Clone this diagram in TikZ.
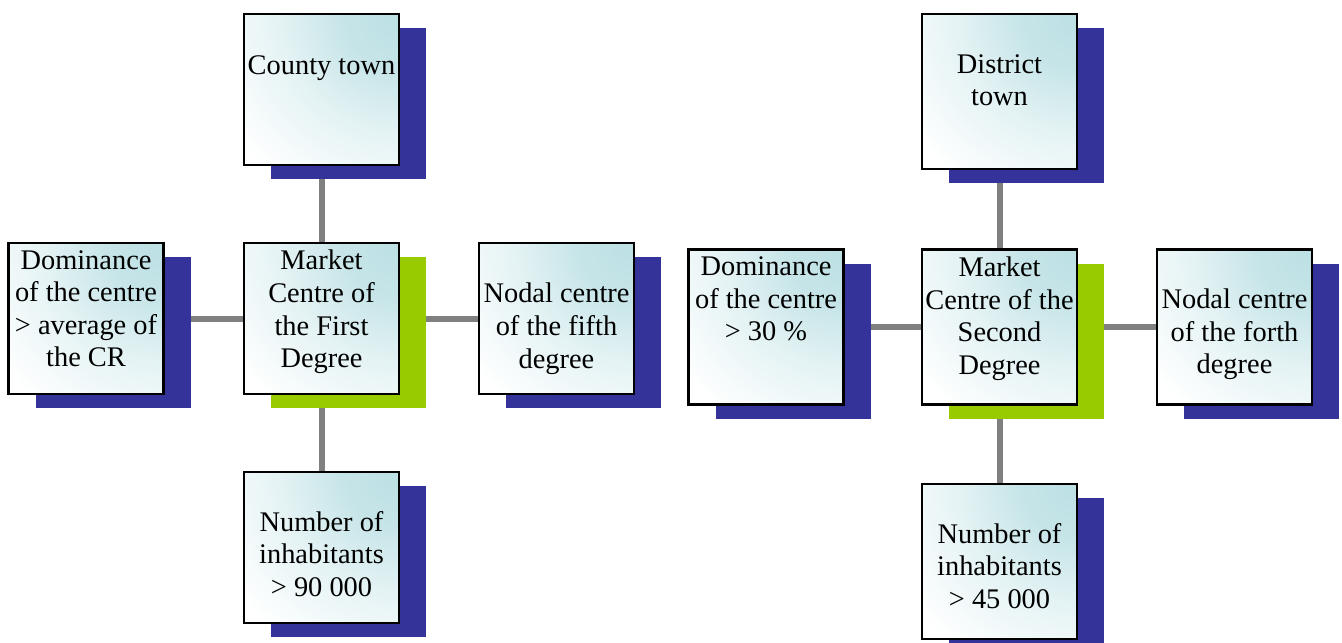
\documentclass[tikz,border=0pt]{standalone}
\usepackage{fontspec}
\setmainfont{Liberation Serif}
\newfontfamily\critfont{Liberation Serif}
\usetikzlibrary{shadows,backgrounds}
\definecolor{shadeblue}{HTML}{333399}
\definecolor{shadegreen}{HTML}{99CC00}
\definecolor{boxteal}{HTML}{BCE0E4}
\definecolor{linkgray}{HTML}{808080}
\pgfdeclareradialshading{critshade}{\pgfpoint{0bp}{0bp}}{color(0bp)=(boxteal);
  color(6bp)=(boxteal!85!white); color(13bp)=(boxteal!40!white);
  color(22bp)=(white); color(50bp)=(white)}

\begin{document}
\begin{tikzpicture}[x=0.5pt,y=-0.5pt,
  crit/.style={draw=black,line width=1.2pt,fill=white,inner sep=0pt,
    minimum width=77.5pt,minimum height=75.5pt,
    path picture={\fill[shading=critshade]
      (path picture bounding box.north east) circle (115pt);},
    general shadow={fill=#1,shadow xshift=13.5pt,shadow yshift=-7pt}},
  crit/.default=shadeblue,
  crittall/.style={crit=#1,minimum height=77.5pt},
  crittall/.default=shadeblue,
  txt/.style={font=\critfont\fontsize{14.2}{16.3}\selectfont,align=center,inner sep=0pt,anchor=north},
  link/.style={draw=linkgray,line width=3pt}]
\useasboundingbox (0,0) rectangle (1342,642);

% first degree
\node[crit] (county) at (321.5,89.5) {};
\node[crit] (dom1) at (86,318.5) {};
\node[crit=shadegreen] (market1) at (321.5,318.5) {};
\node[crit] (nodal5) at (556.5,318.5) {};
\node[crit] (num1) at (321.5,547.5) {};

\node[txt] (county-t) at ([yshift=-21pt]county.north) {County town};
\node[txt] (dom1-t) at ([yshift=-4pt]dom1.north) {Dominance\\of the centre\\> average of\\the CR};
\node[txt] (market1-t) at ([yshift=-4pt]market1.north) {Market\\Centre of\\the First\\Degree};
\node[txt] (nodal5-t) at ([yshift=-20.5pt]nodal5.north) {Nodal centre\\of the fifth\\degree};
\node[txt] (num1-t) at ([yshift=-20pt]num1.north) {Number of\\inhabitants\\> 90 000};

% second degree
\node[crittall] (district) at (999.5,91.5) {};
\node[crittall] (dom2) at (766,327) {};
\node[crittall=shadegreen] (market2) at (999.5,327) {};
\node[crittall] (nodal4) at (1234.5,327) {};
\node[crittall] (num2) at (999.5,561.5) {};

\node[txt] (district-t) at ([yshift=-20.5pt]district.north) {District\\town};
\node[txt] (dom2-t) at ([yshift=-4pt]dom2.north) {Dominance\\of the centre\\> 30 \%};
\node[txt] (market2-t) at ([yshift=-4pt]market2.north) {Market\\Centre of the\\Second\\Degree};
\node[txt] (nodal4-t) at ([yshift=-20pt]nodal4.north) {Nodal centre\\of the forth\\degree};
\node[txt] (num2-t) at ([yshift=-20pt]num2.north) {Number of\\inhabitants\\> 45 000};

\begin{scope}[on background layer]
\draw[link] (county) -- (market1) -- (num1);
\draw[link] (dom1) -- (market1) -- (nodal5);
\draw[link] (district) -- (market2) -- (num2);
\draw[link] (dom2) -- (market2) -- (nodal4);
\end{scope}
\end{tikzpicture}
\end{document}
